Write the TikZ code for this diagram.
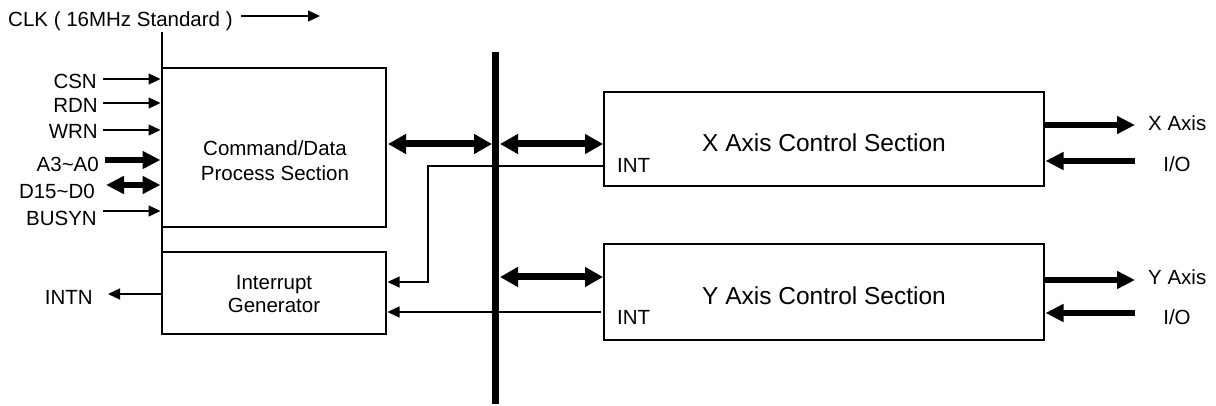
\documentclass[tikz,border=0pt]{standalone}
\usepackage{fontspec}
\setmainfont{Liberation Sans}
\usetikzlibrary{arrows.meta}
\tikzset{
	blk/.style={draw, line width=1.3pt, inner sep=0pt, outer sep=0pt},
	lbl/.style={inner sep=0pt, font=\fontsize{20.5}{25}\selectfont},
	ttl/.style={inner sep=0pt, font=\fontsize{24.5}{28}\selectfont},
	wire/.style={line width=1.3pt},
	thinarr/.style={line width=1.3pt, -{Triangle[length=12pt,width=11pt]}},
	bigarr/.style={line width=5.5pt, -{Triangle[length=18pt,width=17pt]}},
	bigboth/.style={line width=5.5pt, {Triangle[length=18pt,width=17pt]}-{Triangle[length=18pt,width=17pt]}},
	bigdbl/.style={line width=7pt, {Triangle[length=18pt,width=19pt]}-{Triangle[length=18pt,width=19pt]}},
	bus/.style={line width=7pt}
}

\begin{document}
\begin{tikzpicture}[x=1pt, y=-1pt]
			%%%%% START %%%%%
			\useasboundingbox (0,0) rectangle (1216,406);
			
			% blocks
			\node[blk, minimum width=224pt, minimum height=159pt] (cmd) at (274,147.5) {};
			\node[blk, minimum width=224pt, minimum height=82pt] (igen) at (274,293) {};
			\node[blk, minimum width=440pt, minimum height=94pt] (xsec) at (824,139) {};
			\node[blk, minimum width=440pt, minimum height=96pt] (ysec) at (824,292) {};
			
			\node[lbl, align=center] (cmdtxt) at (275,161) {Command/Data\\Process Section};
			\node[lbl, align=center, font=\fontsize{20.5}{23}\selectfont] (igentxt) at (274,294) {Interrupt\\Generator};
			\node[ttl] (xsectxt) at (824,142.5) {X Axis Control Section};
			\node[ttl] (ysectxt) at (824,296) {Y Axis Control Section};
			\node[lbl, anchor=west] (xint) at (617,165) {INT};
			\node[lbl, anchor=west] (yint) at (617,317) {INT};
			
			% clock
			\node[lbl, anchor=west] (clk) at (8,21) {CLK ( 16MHz Standard )};
			\coordinate (clkend) at (320,16);
			\coordinate (clktop) at (162,32);
			\draw[thinarr] ([xshift=8pt,yshift=5pt]clk.east) -- (clkend);
			\draw[wire] (clktop) -- (cmd.north west);
			\draw[wire] (cmd.south west) -- (igen.north west);
			
			% host side
			\node[lbl, anchor=east] (csn) at (97,81) {CSN};
			\node[lbl, anchor=east] (rdn) at (98,105) {RDN};
			\node[lbl, anchor=east] (wrn) at (98,131) {WRN};
			\node[lbl, anchor=east] (adr) at (99,164) {A3\char`~A0};
			\node[lbl, anchor=east] (dat) at (95,191) {D15\char`~D0};
			\node[lbl, anchor=east] (busy) at (97,218) {BUSYN};
			\node[lbl, anchor=east] (intn) at (93,297) {INTN};
			
			\coordinate (csnin) at (103,79);
			\coordinate (rdnin) at (103,103);
			\coordinate (wrnin) at (103,130);
			\coordinate (adrin) at (105,160);
			\coordinate (datin) at (106,185);
			\coordinate (busyin) at (103,211);
			\coordinate (intnout) at (108,294);
			
			\draw[thinarr, shorten >=1.5pt] (csnin) -- (cmd.west |- csnin);
			\draw[thinarr, shorten >=1.5pt] (rdnin) -- (cmd.west |- rdnin);
			\draw[thinarr, shorten >=1.5pt] (wrnin) -- (cmd.west |- wrnin);
			\draw[bigarr, shorten >=1.5pt] (adrin) -- (cmd.west |- adrin);
			\draw[bigboth, shorten >=1.5pt] (datin) -- (cmd.west |- datin);
			\draw[thinarr, shorten >=1.5pt] (busyin) -- (cmd.west |- busyin);
			\draw[thinarr, shorten <=1.5pt] (igen.west |- intnout) -- (intnout);
			
			% internal bus
			\coordinate (bustop) at (495.5,52);
			\coordinate (busbot) at (495.5,404);
			\draw[bus] (bustop) -- (busbot);
			
			\coordinate (xrow) at (0,144);
			\coordinate (yrow) at (0,277);
			\draw[bigdbl, shorten <=2pt, shorten >=3.5pt] (cmd.east |- xrow) -- (bustop |- xrow);
			\draw[bigdbl, shorten <=4.5pt, shorten >=1pt] (bustop |- xrow) -- (xsec.west |- xrow);
			\draw[bigdbl, shorten <=4.5pt, shorten >=1pt] (bustop |- yrow) -- (ysec.west |- yrow);
			
			% interrupt lines
			\coordinate (xintbend) at (428,166);
			\coordinate (xintin) at (0,282);
			\coordinate (yintout) at (601,312);
			\draw[thinarr, shorten >=1.5pt] (xsec.west |- xintbend) -- (xintbend) |- (igen.east |- xintin);
			\draw[thinarr, shorten >=1.5pt] (yintout) -- (igen.east |- yintout);
			
			% axis side
			\coordinate (xaxout) at (1135,125);
			\coordinate (xioin) at (1135,161);
			\coordinate (yaxout) at (1135,280);
			\coordinate (yioin) at (1135,313);
			\draw[bigarr] (xsec.east |- xaxout) -- (xaxout);
			\draw[bigarr, shorten >=1.5pt] (xioin) -- (xsec.east |- xioin);
			\draw[bigarr] (ysec.east |- yaxout) -- (yaxout);
			\draw[bigarr, shorten >=1.5pt] (yioin) -- (ysec.east |- yioin);
			
			\node[lbl, anchor=west] (xaxis) at (1148,123.5) {X Axis};
			\node[lbl] (xio) at (1177,164) {I/O};
			\node[lbl, anchor=west] (yaxis) at (1148,277) {Y Axis};
			\node[lbl] (yio) at (1177,317) {I/O};
			
			%%%%% END %%%%%
\end{tikzpicture}
\end{document}
